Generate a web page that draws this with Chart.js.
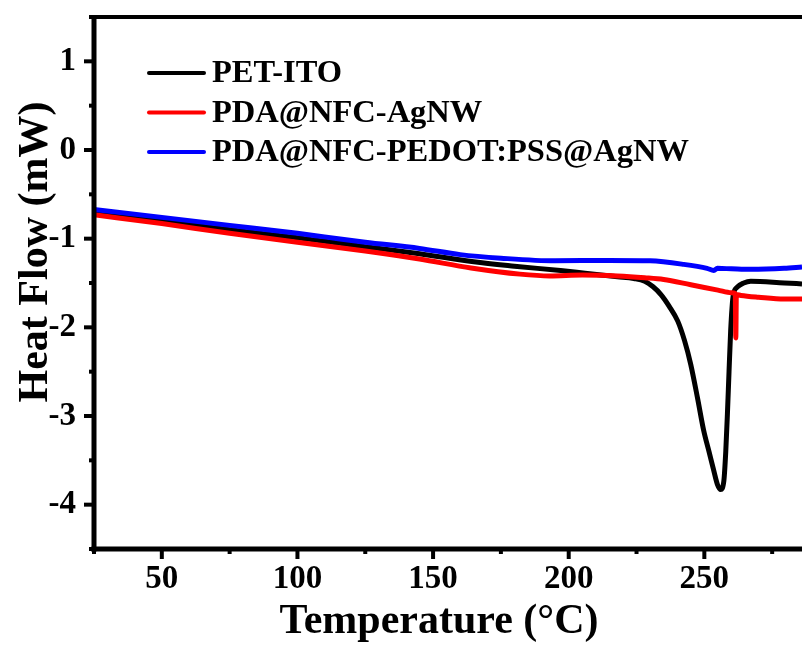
<!DOCTYPE html>
<html>
<head>
    <title>DSC Heat Flow</title>
    <meta charset="UTF-8">
    <style>
        body { margin: 0; background: #fff; }
        #chart-box { width: 802px; height: 646px; }
    </style>
    <script src="https://cdn.jsdelivr.net/npm/chart.js@4.4.1/dist/chart.umd.min.js"></script>
</head>
<body>
    <div id="chart-box"><canvas id="dsc-chart" width="802" height="646"></canvas></div>

    <script>
        // Values (temperature in °C, heat flow in mW)
        const seriesNames = ['PET-ITO', 'PDA@NFC-AgNW', 'PDA@NFC-PEDOT:PSS@AgNW'];
        const seriesColors = ['#000000', '#ff0000', '#0000ff'];

        const tempPet = [25, 50, 75, 100, 110, 125, 145, 165, 180, 197, 206, 218, 224, 228, 231, 234, 237, 240.2, 242.7, 245,
                         247.5, 249.8, 251.7, 253.5, 254.8, 256, 257.2, 257.9, 258.5, 259.1, 259.7, 260.2, 260.7, 262.2, 264.5,
                         267.1, 279.5, 286];
        const flowPet = [-0.70, -0.80, -0.90, -0.99, -1.03, -1.09, -1.17, -1.26, -1.31, -1.36, -1.39, -1.43, -1.45, -1.48, -1.54,
                         -1.63, -1.76, -1.93, -2.15, -2.42, -2.80, -3.17, -3.40, -3.62, -3.77, -3.83, -3.73, -3.40, -2.98, -2.50,
                         -2.04, -1.78, -1.63, -1.545, -1.50, -1.48, -1.50, -1.51];

        const tempAgnw = [25, 50, 75, 100, 110, 125, 145, 164, 182, 193, 205, 218, 228, 235, 245, 255, 260, 261.4, 261.6, 261.8,
                          263.5, 270, 279.5, 286];
        const flowAgnw = [-0.73, -0.83, -0.94, -1.04, -1.08, -1.14, -1.23, -1.33, -1.40, -1.42, -1.41, -1.42, -1.44, -1.46, -1.52,
                          -1.58, -1.61, -1.62, -2.12, -1.63, -1.64, -1.66, -1.68, -1.68];

        const tempPedot = [25, 50, 75, 100, 110, 125, 145, 160, 175, 195, 215, 230, 242.4, 251, 253.5, 254.8, 260, 267, 279.4, 286];
        const flowPedot = [-0.67, -0.76, -0.85, -0.94, -0.98, -1.04, -1.11, -1.18, -1.22, -1.25, -1.245, -1.25, -1.29, -1.335,
                           -1.358, -1.335, -1.34, -1.346, -1.335, -1.32];

        const xTickLabels = [50, 100, 150, 200, 250];
        const yTickLabels = [-4, -3, -2, -1, 0, 1];

        const serif = 'Liberation Serif, Times New Roman, serif';

        function toPoints(xs, ys) {
            return xs.map((x, i) => ({ x: x, y: ys[i] }));
        }

        // Frame, outward ticks (major + minor), axis titles and the legend box
        const decorations = {
            id: 'decorations',
            afterDatasetsDraw(chart) {
                const { ctx, chartArea: a, scales: { x, y } } = chart;
                ctx.save();
                ctx.strokeStyle = '#000';
                ctx.fillStyle = '#000';

                const seg = (x1, y1, x2, y2) => {
                    ctx.beginPath();
                    ctx.moveTo(x1, y1);
                    ctx.lineTo(x2, y2);
                    ctx.stroke();
                };

                ctx.lineWidth = 4;
                for (let v = 25; v <= x.max; v += 25) {
                    const px = x.getPixelForValue(v);
                    seg(px, a.bottom, px, a.bottom + (v % 50 === 0 ? 10 : 5));
                }
                for (let v = -4.5; v <= 1.5; v += 0.5) {
                    const py = y.getPixelForValue(v);
                    seg(a.left - (Number.isInteger(v) ? 10 : 5), py, a.left, py);
                }

                // axes
                ctx.lineWidth = 5;
                seg(a.left, a.top - 2, a.left, a.bottom + 2.5);
                seg(a.left - 2.5, a.bottom, a.right, a.bottom);
                ctx.lineWidth = 4;
                seg(a.left, a.top, a.right, a.top);

                // axis titles
                ctx.font = 'bold 42px ' + serif;
                ctx.textAlign = 'center';
                ctx.textBaseline = 'alphabetic';
                ctx.fillText('Temperature (\u00B0C)', 439, 633);

                ctx.save();
                ctx.translate(47, 252);
                ctx.rotate(-Math.PI / 2);
                ctx.fillText('Heat Flow (mW)', 0, 0);
                ctx.restore();

                // legend
                ctx.font = 'bold 32.5px ' + serif;
                ctx.textAlign = 'left';
                ctx.lineCap = 'round';
                chart.data.datasets.forEach((ds, i) => {
                    const ly = 73 + i * 39.5;
                    ctx.strokeStyle = ds.borderColor;
                    ctx.lineWidth = 4;
                    seg(149, ly, 204, ly);
                    ctx.fillText(ds.label, 212, ly + 9);
                });

                ctx.restore();
            }
        };

        const ctx = document.getElementById('dsc-chart').getContext('2d');
        const dscChart = new Chart(ctx, {
            type: 'scatter',
            data: {
                datasets: [
                    { label: seriesNames[0], data: toPoints(tempPet, flowPet), borderColor: seriesColors[0], order: 2 },
                    { label: seriesNames[1], data: toPoints(tempAgnw, flowAgnw), borderColor: seriesColors[1], order: 1 },
                    { label: seriesNames[2], data: toPoints(tempPedot, flowPedot), borderColor: seriesColors[2], order: 0 }
                ]
            },
            options: {
                responsive: false,
                animation: false,
                showLine: true,
                layout: { padding: { top: 17, right: 0, bottom: 0, left: 0 } },
                elements: {
                    point: { radius: 0, hoverRadius: 0 },
                    line: { borderWidth: 5, cubicInterpolationMode: 'monotone', fill: false }
                },
                plugins: {
                    legend: { display: false },
                    tooltip: { enabled: false }
                },
                scales: {
                    x: {
                        type: 'linear',
                        min: 25,
                        max: 286,
                        grid: { display: false, drawTicks: false },
                        border: { display: false },
                        afterBuildTicks: (scale) => { scale.ticks = xTickLabels.map(v => ({ value: v })); },
                        afterFit: (scale) => {
                            scale.height = 97;
                            scale.paddingLeft = 0;
                            scale.paddingRight = 0;
                        },
                        ticks: {
                            color: '#000',
                            padding: 11,
                            maxRotation: 0,
                            autoSkip: false,
                            font: { family: serif, weight: 'bold', size: 33 }
                        }
                    },
                    y: {
                        type: 'linear',
                        min: -4.5,
                        max: 1.5,
                        grid: { display: false, drawTicks: false },
                        border: { display: false },
                        afterBuildTicks: (scale) => { scale.ticks = yTickLabels.map(v => ({ value: v })); },
                        afterFit: (scale) => {
                            scale.width = 94;
                            scale.paddingTop = 0;
                            scale.paddingBottom = 0;
                        },
                        ticks: {
                            color: '#000',
                            padding: 18,
                            autoSkip: false,
                            font: { family: serif, weight: 'bold', size: 33 }
                        }
                    }
                }
            },
            plugins: [decorations]
        });
    </script>
</body>
</html>
